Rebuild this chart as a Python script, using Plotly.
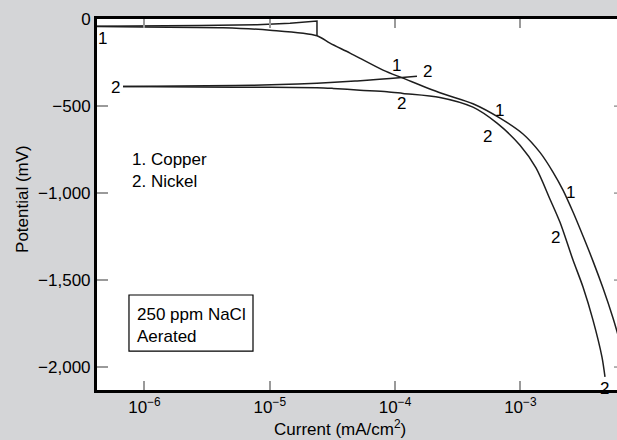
import numpy as np
import plotly.graph_objects as go

# Polarization curves, 250 ppm NaCl, aerated
# current density in mA/cm2, potential in mV

# Copper, return branch: end bar, then right to left towards the corrosion potential
cu_return_current = [2.38e-5, 2.38e-5, 1.45e-5, 7.90e-6, 2.77e-6, 9.73e-7, 3.55e-7]
cu_return_potential = [-95, -11, -23, -32, -36, -38.5, -41]

# Copper, forward branch: from the corrosion potential down the cathodic curve
cu_forward_current = [3.55e-7, 9.73e-7, 4.23e-6, 1.004e-5, 2.38e-5, 3.02e-5, 4.37e-5,
                      8.01e-5, 1.156e-4, 2.28e-4, 4.18e-4, 6.88e-4, 1.049e-3,
                      1.433e-3, 1.820e-3, 2.188e-3, 2.630e-3, 3.160e-3, 3.797e-3,
                      4.562e-3, 5.483e-3, 6.235e-3, 7.223e-3]
cu_forward_potential = [-41, -45, -49, -63, -95, -138, -195,
                        -293, -339, -423, -486, -569, -660,
                        -766, -879, -983, -1109, -1247, -1391,
                        -1546, -1718, -1856, -2029]

# Nickel, return branch
ni_return_current = [1.495e-4, 9.11e-5, 5.97e-5, 4.79e-5, 2.38e-5, 1.206e-5, 5.28e-6, 6.74e-7]
ni_return_potential = [-328, -341, -351, -356, -368, -376, -382, -387]

# Nickel, forward branch
ni_forward_current = [6.74e-7, 5.28e-6, 2.38e-5, 3.19e-5, 5.25e-5, 8.62e-5, 1.156e-4,
                      2.28e-4, 4.18e-4, 6.51e-4, 9.93e-4, 1.332e-3, 1.723e-3, 2.071e-3,
                      2.630e-3, 3.160e-3, 3.797e-3, 4.479e-3, 4.733e-3]
ni_forward_potential = [-387, -391, -394, -398, -408, -417, -427,
                        -450, -506, -598, -725, -855, -1035, -1168,
                        -1385, -1540, -1730, -1943, -2057]

# Curve number labels
label_text = ["1", "1", "1", "1", "2", "2", "2", "2", "2", "2"]
label_current = [4.58e-7, 1.035e-4, 6.87e-4, 2.5e-3,
                 5.82e-7, 1.80e-4, 1.135e-4, 5.51e-4, 1.92e-3, 4.73e-3]
label_potential = [-109, -264, -523, -994,
                   -391, -299, -483, -672, -1253, -2121]

x_tick_vals = [1e-6, 1e-5, 1e-4, 1e-3]
x_tick_text = ["10<sup>−6</sup>", "10<sup>−5</sup>", "10<sup>−4</sup>", "10<sup>−3</sup>"]
y_tick_vals = [0, -500, -1000, -1500, -2000]
y_tick_text = ["0", "−500", "−1,000", "−1,500", "−2,000"]

FONT = "Liberation Sans, Arial, Helvetica, sans-serif"
TICK_GRAY = "#9a9a9a"


def curve(xs, ys, smooth):
    line = dict(color="#1e1e1e", width=1.5)
    if smooth:
        line.update(shape="spline", smoothing=0.8)
    return go.Scatter(x=xs, y=ys, mode="lines", line=line, hoverinfo="skip")


fig = go.Figure()
fig.add_trace(curve(cu_return_current, cu_return_potential, False))
fig.add_trace(curve(cu_forward_current, cu_forward_potential, True))
fig.add_trace(curve(ni_return_current, ni_return_potential, True))
fig.add_trace(curve(ni_forward_current, ni_forward_potential, True))

for t, xv, yv in zip(label_text, label_current, label_potential):
    fig.add_annotation(x=np.log10(xv), y=yv, xref="x", yref="y", text=t,
                       showarrow=False, font=dict(size=17, color="black"))

# legend-style text block
fig.add_annotation(x=(130 - 97) / 520, y=0.5916, xref="paper", yref="paper",
                   text="1. Copper<br>2. Nickel", showarrow=False, align="left",
                   xanchor="left", yanchor="middle",
                   font=dict(size=17, color="black"))

# conditions box
fig.add_shape(type="rect", xref="paper", yref="paper",
              x0=0.0615, x1=0.300, y0=0.105, y1=0.256,
              line=dict(color="black", width=1.2), fillcolor="white")
fig.add_annotation(x=(135 - 97) / 520, y=0.1736, xref="paper", yref="paper",
                   text="250 ppm NaCl<br>Aerated", showarrow=False, align="left",
                   xanchor="left", yanchor="middle",
                   font=dict(size=17, color="black"))

# short ticks on the right-hand side
for v in y_tick_vals[1:]:
    fig.add_shape(type="line", xref="paper", yref="y",
                  x0=1 - 3 / 520, x1=1.0, y0=v, y1=v,
                  line=dict(color=TICK_GRAY, width=1.5))

# axis titles
fig.add_annotation(x=(340 - 97) / 520, y=-0.1024, xref="paper", yref="paper",
                   text="Current (mA/cm<sup>2</sup>)", showarrow=False,
                   xanchor="center", yanchor="middle",
                   font=dict(size=17, color="black"))
fig.add_annotation(x=(23 - 97) / 520, y=0.515, xref="paper", yref="paper",
                   text="Potential (mV)", showarrow=False, textangle=-90,
                   xanchor="center", yanchor="middle",
                   font=dict(size=17, color="black"))

fig.update_xaxes(type="log", range=[-6.379, -2.229],
                 tickvals=x_tick_vals, ticktext=x_tick_text,
                 ticks="inside", ticklen=9, tickwidth=1.5, tickcolor=TICK_GRAY,
                 showline=True, linecolor="black", linewidth=3, mirror="ticks",
                 showgrid=False, zeroline=False,
                 tickfont=dict(size=17, color="black"))
fig.update_yaxes(range=[-2132, 1],
                 tickvals=y_tick_vals, ticktext=y_tick_text,
                 ticks="inside", ticklen=11, tickwidth=1.5, tickcolor=TICK_GRAY,
                 showline=True, linecolor="black", linewidth=3,
                 showgrid=False, zeroline=False,
                 tickfont=dict(size=17, color="black"))

fig.update_layout(width=617, height=440,
                  margin=dict(l=97, r=0, t=19, b=50),
                  paper_bgcolor="#d4d5d7", plot_bgcolor="white",
                  showlegend=False,
                  font=dict(family=FONT, size=17, color="black"))

fig.write_html("out.html")
